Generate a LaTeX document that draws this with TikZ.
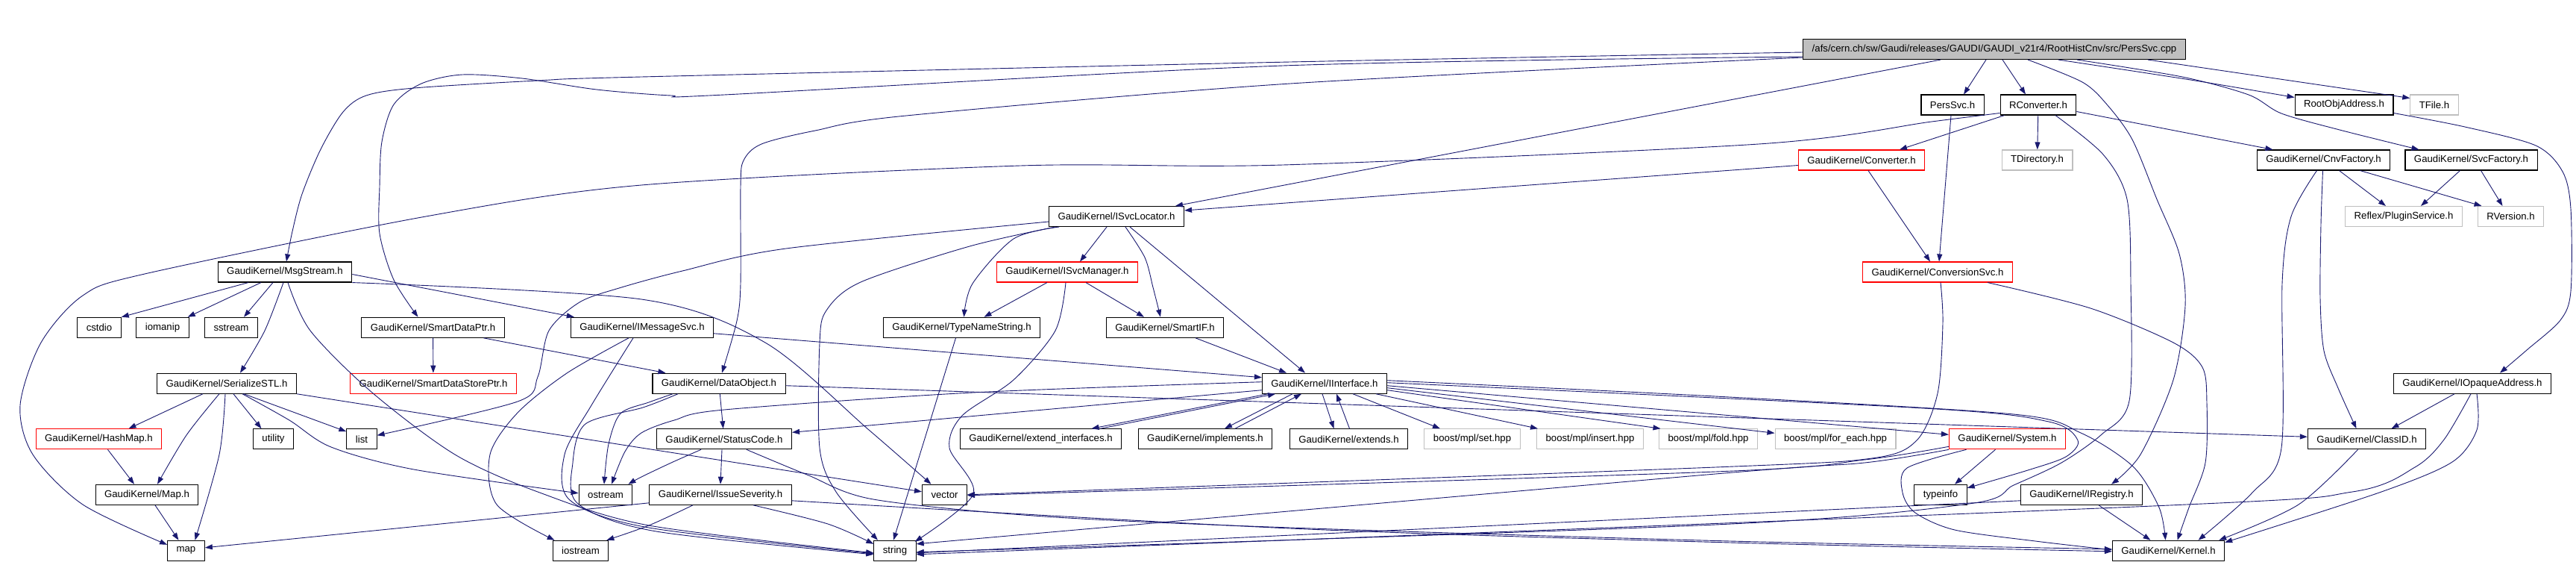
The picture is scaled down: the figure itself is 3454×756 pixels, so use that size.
\documentclass[tikz,border=0pt]{standalone}
\usepackage{fontspec}
\setmainfont{Liberation Sans}
\usepackage{xcolor}
\usepackage{tikz}
\usetikzlibrary{arrows.meta,calc}

\definecolor{edgeblue}{HTML}{191970}
\definecolor{extgray}{HTML}{BFBFBF}

\begin{document}
\begin{tikzpicture}[
    x=1pt, y=-1pt,
    file/.style={rectangle, draw=black, line width=1.1pt, fill=white, minimum height=27pt, inner xsep=12pt, inner ysep=0pt, font=\fontsize{13.2}{15}\selectfont},
    trunc/.style={file, draw=red},
    ext/.style={file, draw=extgray},
    srcfile/.style={file, fill=extgray},
    edge/.style={draw=edgeblue, line width=0.9pt, -{Triangle[length=10pt,width=7pt]}}
]
    \fill[white] (0,0) rectangle (3454,756);
    \useasboundingbox (0,0) rectangle (3454,756);

    % the source file
    \node[srcfile] (root) at (2674,66) {/afs/cern.ch/sw/Gaudi/releases/GAUDI/GAUDI\_v21r4/RootHistCnv/src/PersSvc.cpp};

    % rows of headers
    \node[file] (pers_svc) at (2618,140.5) {PersSvc.h};
    \node[file] (r_converter) at (2733,140.5) {RConverter.h};
    \node[file] (root_obj_addr) at (3143,140.5) {RootObjAddress.h};
    \node[ext] (t_file) at (3264,140.5) {TFile.h};

    \node[trunc] (converter) at (2496,214.5) {GaudiKernel/Converter.h};
    \node[ext] (t_directory) at (2731.5,214.5) {TDirectory.h};
    \node[file] (cnv_factory) at (3115.5,214.5) {GaudiKernel/CnvFactory.h};
    \node[file] (svc_factory) at (3313.5,214.5) {GaudiKernel/SvcFactory.h};

    \node[file] (svc_locator) at (1497,290) {GaudiKernel/ISvcLocator.h};
    \node[ext] (plugin_svc) at (3223,290) {Reflex/PluginService.h};
    \node[ext] (r_version) at (3366.5,290) {RVersion.h};

    \node[file] (msg_stream) at (382,364.5) {GaudiKernel/MsgStream.h};
    \node[trunc] (svc_manager) at (1431,364.5) {GaudiKernel/ISvcManager.h};
    \node[trunc] (conversion_svc) at (2598,364.5) {GaudiKernel/ConversionSvc.h};

    \node[file] (cstdio) at (133,438.8) {cstdio};
    \node[file] (iomanip) at (218,438.8) {iomanip};
    \node[file] (sstream) at (310,438.8) {sstream};
    \node[file] (smart_data_ptr) at (580.5,438.8) {GaudiKernel/SmartDataPtr.h};
    \node[file] (message_svc) at (861,438.8) {GaudiKernel/IMessageSvc.h};
    \node[file] (type_name_string) at (1289.5,438.8) {GaudiKernel/TypeNameString.h};
    \node[file] (smart_if) at (1562,438.8) {GaudiKernel/SmartIF.h};

    \node[file] (serialize_stl) at (304,513.7) {GaudiKernel/SerializeSTL.h};
    \node[trunc] (smart_data_store_ptr) at (581,513.7) {GaudiKernel/SmartDataStorePtr.h};
    \node[file] (data_object) at (964,513.7) {GaudiKernel/DataObject.h};
    \node[file] (iinterface) at (1776,513.7) {GaudiKernel/IInterface.h};
    \node[file] (opaque_address) at (3315,513.7) {GaudiKernel/IOpaqueAddress.h};

    \node[trunc] (hash_map) at (132.5,588.3) {GaudiKernel/HashMap.h};
    \node[file] (utility) at (366.5,588.3) {utility};
    \node[file] (list) at (485,588.3) {list};
    \node[file] (status_code) at (971,588.3) {GaudiKernel/StatusCode.h};
    \node[file] (extend_ifs) at (1395.5,588.3) {GaudiKernel/extend\_interfaces.h};
    \node[file] (implements) at (1616,588.3) {GaudiKernel/implements.h};
    \node[file] (extends) at (1808.5,588.3) {GaudiKernel/extends.h};
    \node[ext] (mpl_set) at (1974,588.3) {boost/mpl/set.hpp};
    \node[ext] (mpl_insert) at (2132,588.3) {boost/mpl/insert.hpp};
    \node[ext] (mpl_fold) at (2290.5,588.3) {boost/mpl/fold.hpp};
    \node[ext] (mpl_for_each) at (2461,588.3) {boost/mpl/for\_each.hpp};
    \node[trunc] (system) at (2691.5,588.3) {GaudiKernel/System.h};
    \node[file] (class_id) at (3173.5,588.3) {GaudiKernel/ClassID.h};

    \node[file] (gk_map) at (197,662.8) {GaudiKernel/Map.h};
    \node[file] (ostream) at (812,662.8) {ostream};
    \node[file] (issue_severity) at (966,662.8) {GaudiKernel/IssueSeverity.h};
    \node[file] (vector) at (1266.5,662.8) {vector};
    \node[file] (typeinfo) at (2602,662.8) {typeinfo};
    \node[file] (registry) at (2791,662.8) {GaudiKernel/IRegistry.h};

    \node[file] (std_map) at (249.5,737.8) {map};
    \node[file] (iostream) at (778.5,737.8) {iostream};
    \node[file] (string) at (1200,737.8) {string};
    \node[file] (kernel) at (2907.5,737.8) {GaudiKernel/Kernel.h};

    % includes of the source file
    \draw[edge] plot[smooth] coordinates {([yshift=-4pt]root.west) (1730,83) (860,103) (721,108) (555,118) (491,128) (460,150) (430,200) (405,260) (392,310) ([xshift=2pt]msg_stream.north)};
    \draw[edge] plot[smooth] coordinates {([yshift=-10pt]root.west) (1720,88) (971,127) (900,128) (800,120) (700,105) (620,100) (565,112) (528,140) (512,190) (509,250) (509,313) (528,375) ([xshift=-20pt]smart_data_ptr.north)};
    \draw[edge] plot[smooth] coordinates {([yshift=-11pt]root.west) (1730,112) (1215,155) (1093,175) (1021,193) (997,215) (993,250) (993,380) (988,430) ([xshift=4pt]data_object.north)};
    \draw[edge] ([xshift=-72pt]root.south) -- ([xshift=79pt]svc_locator.north);
    \draw[edge] ([xshift=-11pt]root.south) -- ([xshift=15pt]pers_svc.north);
    \draw[edge] ([xshift=11pt]root.south) -- ([xshift=-17pt]r_converter.north);
    \draw[edge] plot[smooth] coordinates {([xshift=45pt]root.south) (2792,110) (2825,140) (2859,187) (2892,267) (2922,340) (2930,410) (2914,509) (2870,609) ([xshift=40pt]registry.north)};
    \draw[edge] plot[smooth] coordinates {([xshift=86pt]root.south) (2937,107) ([yshift=10pt]root_obj_addr.west)};
    \draw[edge] plot[smooth] coordinates {([xshift=111pt]root.south) (2926,103) (3015,127) (3059,152) (3137,174) ([xshift=-70pt]svc_factory.north)};
    \draw[edge] ([xshift=206pt]root.south) -- ([yshift=9pt]t_file.west);

    % second level
    \draw[edge] ([xshift=-2pt]pers_svc.south) -- ([xshift=2pt]conversion_svc.north);
    \draw[edge] ([xshift=6pt]r_converter.south west) -- ([xshift=51pt]converter.north);
    \draw[edge] (r_converter) -- (t_directory);
    \draw[edge] ([yshift=-9pt]r_converter.east) -- ([xshift=-68pt]cnv_factory.north);
    \draw[edge] plot[smooth] coordinates {([yshift=-11pt]r_converter.west) (2590,163) (2358,193) (1720,221) (1368,222) (860,248) (571,290) (194,367) (111,396) (55,459) (27,543) (44,609) (111,676) ([yshift=8pt]std_map.west)};
    \draw[edge] plot[smooth] coordinates {([xshift=23pt]r_converter.south) (2820,207) (2852,267) (2857,380) (2855,537) (2818,582) (2764,620) (2700,650) (2640,675) (2300,703) ([yshift=-2pt]string.east)};
    \draw[edge] ([yshift=-7pt]converter.west) -- ([yshift=8pt]svc_locator.east);
    \draw[edge] ([xshift=9pt]converter.south) -- ([xshift=-10pt]conversion_svc.north);
    \draw[edge] plot[smooth] coordinates {([xshift=4pt]conversion_svc.south) (2605,433) (2598,527) (2570,590) (2510,614) (2300,626) (vector.east)};
    \draw[edge] plot[smooth] coordinates {([xshift=67pt]conversion_svc.south) (2803,413) (2914,459) (2953,492) (2959,540) (2957,620) (2935,680) ([xshift=12pt]kernel.north)};

    % factories and addresses
    \draw[edge] ([xshift=21pt]cnv_factory.south) -- ([xshift=-24pt]plugin_svc.north);
    \draw[edge] ([xshift=49pt]cnv_factory.south) -- ([xshift=-39pt]r_version.north);
    \draw[edge] plot[smooth] coordinates {([xshift=-1pt]cnv_factory.south) (3112,300) (3111,400) (3116,470) (3135,520) ([xshift=-14pt]class_id.north)};
    \draw[edge] plot[smooth] coordinates {([xshift=-9pt]cnv_factory.south) (3072,290) (3060,380) (3059,600) (3020,660) ([xshift=40pt]kernel.north)};
    \draw[edge] ([xshift=-15pt]svc_factory.south) -- ([xshift=23pt]plugin_svc.north);
    \draw[edge] ([xshift=13pt]svc_factory.south) -- ([xshift=-11pt]r_version.north);
    \draw[edge] plot[smooth] coordinates {([yshift=-11pt]root_obj_addr.east) (3305,170) (3400,195) (3436,230) (3447,280) (3447,390) (3433,429) (3388,469) ([xshift=37pt]opaque_address.north)};
    \draw[edge] ([xshift=-24pt]opaque_address.south) -- ([xshift=33pt]class_id.north);
    \draw[edge] plot[smooth] coordinates {([xshift=6pt]opaque_address.south) (3321,576) (3288,619) (3193,659) ([yshift=-3pt]kernel.north east)};
    \draw[edge] plot[smooth] coordinates {([xshift=-2pt]opaque_address.south) (3277,589) (3238,626) (3154,659) (2886,678) ([yshift=-5pt]string.east)};
    \draw[edge] plot[smooth] coordinates {([xshift=-12pt]class_id.south) (3082,676) ([xshift=-8pt]kernel.north east)};
    \draw[edge] ([xshift=23pt]registry.south) -- ([xshift=-24pt]kernel.north);
    \draw[edge] ([yshift=-8pt]registry.west) -- ([yshift=-3pt]string.east);

    % service locator
    \draw[edge] plot[smooth] coordinates {([yshift=-7pt]svc_locator.west) (1054,333) (915,363) (830,386) (777,405) (736,443) (721,505) (694,538) ([yshift=5pt]list.east)};
    \draw[edge] plot[smooth] coordinates {([xshift=-82pt]svc_locator.south) (1300,330) (1154,378) (1108,416) (1099,460) (1099,600) (1121,659) ([xshift=-23pt]string.north)};
    \draw[edge] plot[smooth] coordinates {([xshift=-77pt]svc_locator.south) (1359,320) (1304,380) ([xshift=3pt]type_name_string.north)};
    \draw[edge] ([xshift=-13pt]svc_locator.south) -- ([xshift=17pt]svc_manager.north);
    \draw[edge] plot[smooth] coordinates {([xshift=12pt]svc_locator.south) (1535,345) (1546,385) ([xshift=-6pt]smart_if.north)};
    \draw[edge] ([xshift=18pt]svc_locator.south) -- ([xshift=-26pt]iinterface.north);
    \draw[edge] ([xshift=-27pt]svc_manager.south) -- ([xshift=30pt]type_name_string.north);
    \draw[edge] ([xshift=25pt]svc_manager.south) -- ([xshift=-28pt]smart_if.north);
    \draw[edge] plot[smooth] coordinates {([xshift=-2pt]svc_manager.south) (1415,443) (1359,509) (1290,557) (1273,600) (1305,662) ([xshift=-2pt,yshift=-2pt]string.north east)};
    \draw[edge] ([xshift=-8pt]type_name_string.south) -- ([xshift=-2pt]string.north);
    \draw[edge] ([xshift=41pt]smart_if.south) -- ([xshift=-51pt]iinterface.north);

    % message stream
    \draw[edge] ([xshift=-49pt]msg_stream.south) -- (cstdio.north east);
    \draw[edge] ([xshift=-32pt]msg_stream.south) -- ([xshift=-2pt]iomanip.north east);
    \draw[edge] ([xshift=-16pt]msg_stream.south) -- ([xshift=17pt]sstream.north);
    \draw[edge] plot[smooth] coordinates {([xshift=-2pt]msg_stream.south) (355,443) ([xshift=18pt]serialize_stl.north)};
    \draw[edge] plot[smooth] coordinates {([xshift=4pt]msg_stream.south) (416,443) (499,526) (610,609) (721,659) (870,704) ([yshift=-3pt]string.west)};
    \draw[edge] ([yshift=-3pt]msg_stream.east) -- ([xshift=5pt]message_svc.north west);
    \draw[edge] plot[smooth] coordinates {(msg_stream.south east) (860,401) (1026,459) (1165,576) ([xshift=-18pt]vector.north)};
    \draw[edge] (smart_data_ptr) -- (smart_data_store_ptr);
    \draw[edge] ([xshift=68pt]smart_data_ptr.south) -- ([xshift=18pt]data_object.north west);
    \draw[edge] ([yshift=-8pt]message_svc.east) -- ([yshift=8pt]iinterface.west);
    \draw[edge] plot[smooth] coordinates {([xshift=-18pt]message_svc.south) (760,500) (694,553) (657,609) (666,676) ([xshift=3pt]iostream.north west)};
    \draw[edge] plot[smooth] coordinates {([xshift=-12pt]message_svc.south) (793,543) (757,609) (764,670) (870,707) ([yshift=-4pt]string.west)};

    % serialisation helpers
    \draw[edge] ([xshift=-32pt]serialize_stl.south) -- ([xshift=40pt]hash_map.north);
    \draw[edge] plot[smooth] coordinates {([xshift=-10pt]serialize_stl.south) (250,583) ([xshift=14pt]gk_map.north)};
    \draw[edge] plot[smooth] coordinates {([xshift=-2pt]serialize_stl.south) (294,609) ([xshift=12pt]std_map.north)};
    \draw[edge] ([xshift=9pt]serialize_stl.south) -- ([xshift=-16pt]utility.north);
    \draw[edge] ([xshift=23pt]serialize_stl.south) -- ([yshift=-4pt]list.north west);
    \draw[edge] plot[smooth] coordinates {([xshift=21pt]serialize_stl.south) (388,563) (444,599) (555,629) ([yshift=2pt]ostream.west)};
    \draw[edge] (serialize_stl.south east) -- ([yshift=4pt]vector.west);
    \draw[edge] ([xshift=12pt]hash_map.south) -- ([xshift=-17pt]gk_map.north);
    \draw[edge] ([xshift=11pt]gk_map.south) -- ([xshift=-10pt]std_map.north);

    % data object and status code
    \draw[edge] (data_object) -- (status_code);
    \draw[edge] ([yshift=-3pt]data_object.east) -- ([yshift=3pt]class_id.west);
    \draw[edge] plot[smooth] coordinates {([xshift=-62pt]data_object.south) (870,539) (832,554) (816,595) ([xshift=-2pt]ostream.north)};
    \draw[edge] plot[smooth] coordinates {([xshift=-55pt]data_object.south) (862,546) (785,568) (768,620) (775,675) (880,712) ([yshift=-5pt]string.west)};
    \draw[edge] plot[smooth] coordinates {([xshift=-31pt]status_code.south) (900,620) (860,639) ([xshift=-6pt]ostream.north east)};
    \draw[edge] ([xshift=-3pt]status_code.south) -- (issue_severity.north);
    \draw[edge] plot[smooth] coordinates {([xshift=30pt]status_code.south) (1082,636) (1171,669) (1400,692) (1730,707) (2320,725) ([yshift=2pt]kernel.west)};
    \draw[edge] plot[smooth] coordinates {([xshift=44pt]issue_severity.south) (1110,702) ([yshift=9pt]string.west)};
    \draw[edge] plot[smooth] coordinates {([xshift=-37pt]issue_severity.south) (870,704) ([xshift=-3pt]iostream.north east)};
    \draw[edge] ([yshift=-11pt]issue_severity.west) -- ([yshift=4pt]std_map.east);
    \draw[edge] plot[smooth] coordinates {([yshift=-8pt]issue_severity.east) (1730,708) (2320,727) ([yshift=-1pt]kernel.west)};

    % interface
    \draw[edge] ([xshift=-76pt]iinterface.south) -- ([xshift=68pt]extend_ifs.north);
    \draw[edge] ([xshift=80pt]extend_ifs.north) -- ([xshift=-66pt]iinterface.south);
    \draw[edge] ([xshift=-43pt]iinterface.south) -- ([xshift=26pt]implements.north);
    \draw[edge] ([xshift=40pt]implements.north) -- ([xshift=-31pt]iinterface.south);
    \draw[edge] ([xshift=-3pt]iinterface.south) -- ([xshift=-20pt]extends.north);
    \draw[edge] ([xshift=1pt]extends.north) -- ([xshift=16pt]iinterface.south);
    \draw[edge] ([xshift=38pt]iinterface.south) -- ([xshift=-43pt]mpl_set.north);
    \draw[edge] ([xshift=69pt]iinterface.south) -- ([xshift=-70pt]mpl_insert.north);
    \draw[edge] ([yshift=-9pt]iinterface.east) -- ([xshift=-64pt]mpl_fold.north);
    \draw[edge] ([yshift=-6pt]iinterface.east) -- ([yshift=8pt]mpl_for_each.west);
    \draw[edge] ([yshift=-3pt]iinterface.east) -- ([yshift=6pt]system.west);
    \draw[edge] plot[smooth] coordinates {([yshift=1pt]iinterface.east) (2580,547) (2747,565) (2786,590) (2770,612) (2719,630) ([yshift=9pt]typeinfo.east)};
    \draw[edge] plot[smooth] coordinates {([yshift=4pt]iinterface.east) (2300,531) (2700,555) (2790,580) (2860,625) (2895,680) ([xshift=-4pt]kernel.north)};
    \draw[edge] ([yshift=-9pt]iinterface.west) -- ([yshift=9pt]status_code.east);
    \draw[edge] plot[smooth] coordinates {([yshift=2pt]iinterface.west) (1304,526) (971,549) (904,563) (860,580) (838,605) ([xshift=8pt]ostream.north)};

    % system
    \draw[edge] ([xshift=-16pt]system.south) -- ([xshift=19pt]typeinfo.north);
    \draw[edge] plot[smooth] coordinates {([xshift=-55pt]system.south) (2557,627) (2551,660) (2568,687) (2621,710) (2729,725) ([yshift=1pt]kernel.west)};
    \draw[edge] plot[smooth] coordinates {([yshift=-10pt]system.west) (2500,616) (2300,632) ([yshift=-1pt]vector.east)};
    \draw[edge] plot[smooth] coordinates {(system.south west) (2500,620) (2300,635) ([yshift=9pt]string.east)};
\end{tikzpicture}
\end{document}
